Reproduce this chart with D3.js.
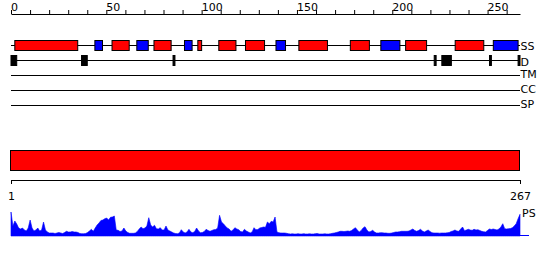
<!DOCTYPE html>
<html>
<head>
<meta charset="utf-8">
<script src="https://cdn.jsdelivr.net/npm/d3@7"></script>
<style>
  html, body { margin: 0; padding: 0; background: #fff; }
  svg { display: block; }
  text { font-family: "DejaVu Sans", sans-serif; font-size: 11px; fill: #000; }
</style>
</head>
<body>
<svg id="chart" width="550" height="260"></svg>
<script>
// ---------- data ----------
const seqLength = 267;
const topTickValues = d3.range(0, 261, 10);
const topTickLabels = [0, 50, 100, 150, 200, 250];
const bottomTickValues = [1, 267];
const trackNames = ["SS", "D", "TM", "CC", "SP"];
// secondary structure: helices (red) and strands (blue), residue ranges
const ssHelix = [[3,35],[54,62],[76,84],[99,100],[110,118],[124,133],[152,166],[179,188],[208,218],[234,248]];
const ssStrand = [[45,48],[67,72],[92,95],[140,144],[195,204],[254,266]];
// disordered regions
const disorder = [[1,3],[38,40],[86,86],[223,223],[227,231],[252,252],[267,267]];
// full-length domain bar
const domainBars = [[1,267]];
// per-residue PS score
const psScores = [
  24,10,15,12,8,7,8,6,5,8, 16,8,5,6,8,5,6,14,6,4,
  3,3,3,2.5,3,3.5,3,2.5,3.5,4.7, 4,4,4.5,4,4,3.5,2.5,2.3,2.3,2.5,
  3.5,5,6.7,4.7,8,11,13,15.5,16,17.3, 18,16,18.7,19,20,6,5.7,4.5,5,8,
  5,3.5,2.7,2.7,2.7,3,4.5,7,9,7.3, 8,10,18.3,11,9,10.7,7.3,7,8.3,6,
  6,10,6,5,4,3,2.5,2.3,3,6.3, 4,3,4,6.7,4,3.3,4.5,8,5,3.3,
  3.5,4.5,6.7,5.5,4.7,5.5,6.3,6.5,8,20.7, 14,12.3,10,8,7,4.7,6,8.3,7,6.3,
  4.5,4,6.7,5,4,3,4,8.3,6.3,6.5, 8,8.5,9,8.7,14,12.3,14.7,14,19,4,
  3.3,3,3,3,2.7,2.3,2,2.2,2,2, 2.3,2,2,2.3,2,2,2.2,2,2,2.3,
  2.5,2,2,2,2.2,2,2,2.3,2.7,3, 3.5,4,4.7,4.7,4.5,4.7,5,4.7,5.5,7,
  8.3,6,4,5.5,8,9.3,6,4,4.5,5.7, 4,3,3,3.3,3.3,3,3,2.7,2.7,3,
  3.5,4,4,4.3,4.7,4.7,4.7,4.7,5,6, 7,5.5,4.7,5.5,6.7,5,4,5,6,4.5,
  3.3,3,3,3,2.8,3,3,3,3.2,3.5, 4.5,5,6,5,4.7,7,9,5.3,6,6.7,
  6,5.7,6.7,6,6.3,5.5,4.7,4.3,4,5.5, 7,6.5,7,6.5,6,7,9,12.3,7.3,7,
  7.3,7.5,8.3,10,12.3,17.3,21.7
];

// ---------- layout ----------
const svg = d3.select("#chart");
const xTop = d3.scaleLinear().domain([0, seqLength]).range([11, 520]);
const xBot = d3.scaleLinear().domain([1, seqLength]).range([11, 520]);
const yPS = d3.scaleLinear().domain([0, 24]).range([236, 212]);
const trackY = d3.scaleOrdinal().domain(trackNames).range([45.5, 60.5, 75.5, 90.5, 105.5]);
const labelY = d3.scaleOrdinal().domain(trackNames).range([50, 65.5, 78, 93, 108]);

// top axis
const topAxis = d3.axisTop(xTop)
  .tickValues(topTickValues)
  .tickSize(4)
  .tickSizeOuter(0)
  .tickFormat(d => topTickLabels.includes(d) ? d : "");
const gTop = svg.append("g").attr("transform", "translate(0,14)").call(topAxis);
gTop.select(".domain").attr("stroke", "#000");
gTop.selectAll(".tick line").attr("stroke", "#000");
gTop.selectAll(".tick text")
  .attr("text-anchor", "start")
  .attr("y", -3.5).attr("dy", 0)
  .attr("x", -0.5)
  .style("font-family", "DejaVu Sans, sans-serif").style("font-size", "11px")
  .attr("fill", "#000");
gTop.attr("font-family", null).attr("font-size", null);

// track lines
svg.append("g").selectAll("line").data(trackNames).join("line")
  .attr("x1", xTop(0)).attr("x2", xTop(seqLength))
  .attr("y1", d => trackY(d)).attr("y2", d => trackY(d))
  .attr("stroke", "#000").attr("stroke-width", 1);

// track labels
svg.append("g").selectAll("text").data(trackNames).join("text")
  .attr("x", xTop(seqLength) + 0.5)
  .attr("y", d => labelY(d))
  .text(d => d);

// SS boxes
function boxes(data, color, yc, h) {
  svg.append("g").selectAll("rect").data(data).join("rect")
    .attr("x", d => xTop(d[0] - 1))
    .attr("width", d => xTop(d[1]) - xTop(d[0] - 1))
    .attr("y", yc - h / 2)
    .attr("height", h)
    .attr("fill", color)
    .attr("stroke", "#000")
    .attr("stroke-width", 1);
}
boxes(ssHelix, "#ff0000", trackY("SS"), 10);
boxes(ssStrand, "#0000ff", trackY("SS"), 10);
boxes(disorder, "#000000", trackY("D"), 10);

// domain bar
svg.append("g").selectAll("rect").data(domainBars).join("rect")
  .attr("x", d => xBot(d[0]) - 0.5)
  .attr("width", d => xBot(d[1]) - xBot(d[0]))
  .attr("y", 150.5).attr("height", 20)
  .attr("fill", "#ff0000").attr("stroke", "#000").attr("stroke-width", 1);

// bottom axis
const botAxis = d3.axisBottom(xBot).tickValues(bottomTickValues).tickSize(4).tickSizeOuter(0).tickFormat(d3.format("d"));
const gBot = svg.append("g").attr("transform", "translate(0,180)").call(botAxis);
gBot.attr("font-family", null).attr("font-size", null);
gBot.select(".domain").attr("stroke", "#000");
gBot.selectAll(".tick line").attr("stroke", "#000");
gBot.selectAll(".tick text").attr("y", 20).attr("dy", 0)
  .style("font-family", "DejaVu Sans, sans-serif").style("font-size", "11px").attr("fill", "#000");

// PS area
const area = d3.area()
  .x((d, i) => xBot(i + 1))
  .y0(yPS(0))
  .y1(d => yPS(d))
  .curve(d3.curveLinear);
svg.append("path").datum(psScores)
  .attr("d", area)
  .attr("fill", "#0000ff")
  .attr("stroke", "#0000ff")
  .attr("stroke-width", 0.6);
svg.append("line")
  .attr("x1", xBot(1)).attr("x2", xBot(seqLength) + 9)
  .attr("y1", yPS(0) - 0.5).attr("y2", yPS(0) - 0.5)
  .attr("stroke", "#0000ff").attr("stroke-width", 1);
svg.append("text").attr("x", xBot(seqLength) + 2).attr("y", 217).text("PS");
</script>
</body>
</html>
